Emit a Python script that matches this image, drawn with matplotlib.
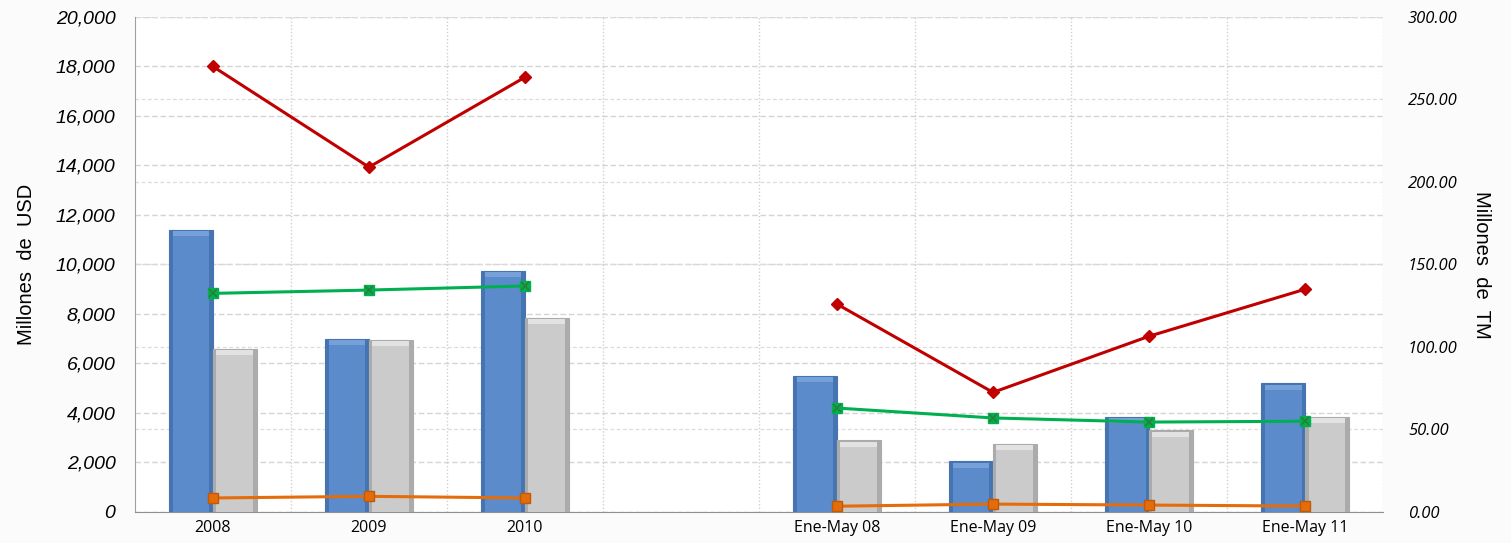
import numpy as np
import matplotlib.pyplot as plt

categorias = ["2008", "2009", "2010", "", "Ene-May 08", "Ene-May 09", "Ene-May 10", "Ene-May 11"]

# Millones de USD (barras)
usd_azul = [11400, 7000, 9750, np.nan, 5500, 2050, 3850, 5200]
usd_gris = [6600, 6950, 7850, np.nan, 2900, 2750, 3300, 3850]

# Millones de TM (lineas)
tm_rojo = [270.0, 209.0, 263.5, np.nan, 126.0, 72.5, 106.5, 135.0]
tm_verde = [132.5, 134.5, 137.0, np.nan, 63.0, 57.0, 54.5, 55.0]
tm_naranja = [8.5, 9.5, 8.5, np.nan, 3.5, 4.8, 4.2, 3.6]

x = np.arange(len(categorias))
ancho = 0.28

fig = plt.figure(figsize=(15.11, 5.43), dpi=100, facecolor="#fbfbfb")
ax = fig.add_axes([0.0893, 0.0571, 0.8260, 0.9116])
ax.set_facecolor("white")
ax2 = ax.twinx()


def barras(pos, valores, base, borde, claro):
    # barra con bisel: bordes oscuros y remate superior claro
    ax.bar(pos, valores, ancho, color=borde, edgecolor=borde, linewidth=0.8, zorder=3)
    v = np.array(valores, dtype=float)
    ax.bar(pos, v - 60, ancho * 0.84, color=base, linewidth=0, zorder=4)
    ax.bar(pos, np.full_like(v, 200), ancho * 0.84, bottom=v - 260, color=claro, linewidth=0, zorder=4)


barras(x - ancho / 2, usd_azul, "#5b8bcb", "#4674b3", "#76a0d8")
barras(x + ancho / 2, usd_gris, "#cbcbcb", "#ababab", "#e2e2e2")

# cuadricula horizontal de ambos ejes
for v in np.arange(0, 20001, 2000):
    ax.axhline(v, color="#d4d4d4", ls=(0, (4, 2)), lw=1, zorder=0)
for v in np.arange(0, 301, 50):
    ax.axhline(v * 20000 / 300, color="#dcdcdc", ls=(0, (3, 2)), lw=0.9, zorder=0)
for b in np.arange(0.5, len(categorias) + 0.5, 1):
    ax.axvline(b, color="#d0d0d0", ls=(0, (1, 1.5)), lw=1, zorder=0)

ax2.plot(x, tm_rojo, color="#c00000", lw=2.2, marker="D", ms=6, zorder=5)
ax2.plot(x, tm_verde, color="#00b050", lw=2.2, marker="s", ms=7, zorder=5)
ax2.plot(x, tm_verde, ls="none", marker="x", ms=6, mec="#2e7d32", mew=1.2, zorder=6)
ax2.plot(x, tm_naranja, color="#e46c0a", lw=2.2, marker="s", ms=7, mec="#c05a06", zorder=5)

ax.set_xlim(-0.5, len(categorias) - 0.5)
ax.set_ylim(0, 20000)
ax2.set_ylim(0, 300)
ax.set_yticks(np.arange(0, 20001, 2000))
ax.set_yticklabels([f"{v:,}" for v in range(0, 20001, 2000)], fontstyle="italic",
                   fontfamily="Liberation Sans", fontsize=14)
ax2.set_yticks(np.arange(0, 301, 50))
ax2.set_yticklabels([f"{v:.2f}" for v in range(0, 301, 50)], fontstyle="italic",
                    fontfamily="Open Sans", fontsize=12)
ax.set_xticks(x)
ax.set_xticklabels(categorias, fontfamily="Open Sans", fontsize=11.5)
ax.tick_params(axis="both", length=0)
ax.tick_params(axis="y", pad=14)
ax.tick_params(axis="x", pad=6)
ax2.tick_params(axis="y", length=0, pad=18)

ax.set_ylabel("Millones  de  USD", fontfamily="Liberation Sans", fontsize=14.5, labelpad=14)
ax2.set_ylabel("Millones  de  TM", fontfamily="Liberation Sans", fontsize=14.5, rotation=270, labelpad=24)

for a in (ax, ax2):
    for s in a.spines.values():
        s.set_visible(False)
ax.spines["left"].set_visible(True)
ax.spines["left"].set_color("#a0a0a0")
ax.spines["bottom"].set_visible(True)
ax.spines["bottom"].set_color("#909090")

fig.savefig("out.png", dpi=100, facecolor=fig.get_facecolor())
